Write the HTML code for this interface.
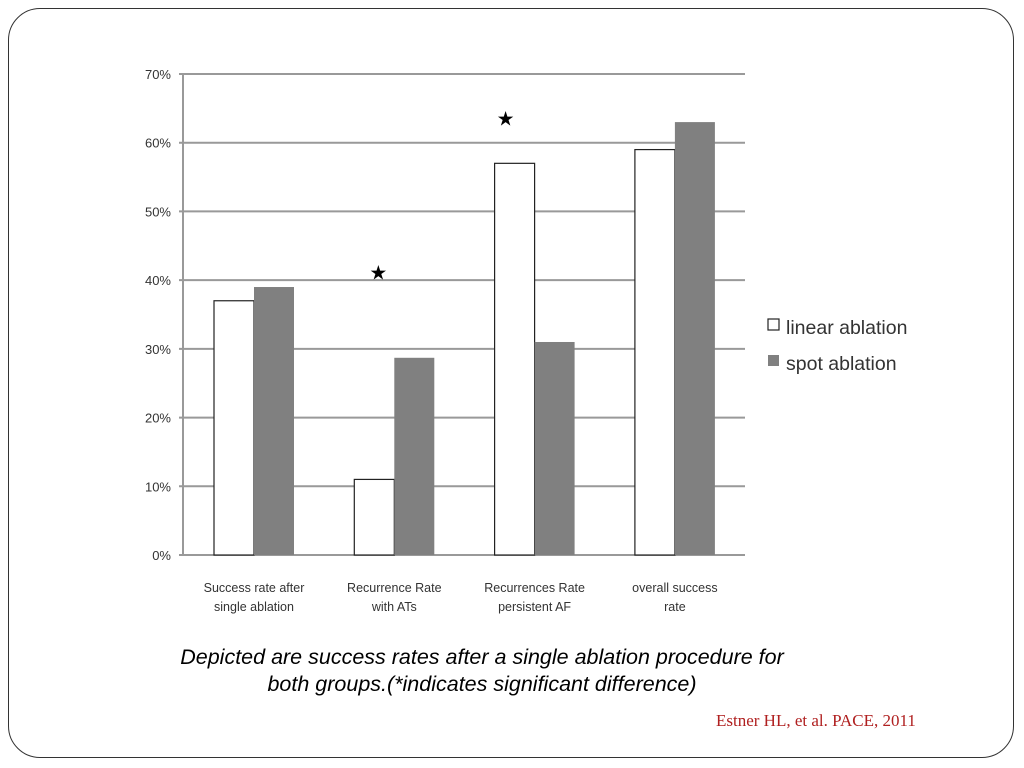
<!DOCTYPE html>
<html><head><meta charset="utf-8"><style>
html,body{margin:0;padding:0;background:#fff;}
body{width:1024px;height:768px;position:relative;overflow:hidden;font-family:"Liberation Sans",sans-serif;}
#frame{position:absolute;left:8px;top:8px;width:1006px;height:750px;border:1.5px solid #333;border-radius:32px;box-sizing:border-box;}
.cap{position:absolute;left:0;width:964px;text-align:center;font-style:italic;font-size:21.5px;color:#000;}
#cite{position:absolute;left:716px;top:711px;font-family:"Liberation Serif",serif;font-size:17px;color:#b02020;}
</style></head><body>
<div id="frame"></div>
<svg id="chart" width="1024" height="768" style="position:absolute;left:0;top:0"></svg>
<div class="cap" style="top:645px">Depicted are success rates after a single ablation procedure for</div>
<div class="cap" style="top:672px">both groups.(*indicates significant difference)</div>
<div id="cite">Estner HL, et al. PACE, 2011</div>
<script>
const categories=[["Success rate after","single ablation"],["Recurrence Rate","with ATs"],["Recurrences Rate","persistent AF"],["overall success","rate"]];
const linearValues=[37,11,57,59];
const spotValues=[39,28.7,31,63];
const tickLabels=["0%","10%","20%","30%","40%","50%","60%","70%"];
const tickValues=[0,10,20,30,40,50,60,70];
const starGroups=[1,2];
const NS="http://www.w3.org/2000/svg";
const svg=document.getElementById('chart');
const x0=183,x1=745,y0=555,y70=74;
const y=v=>y0-(v/70)*(y0-y70);
const groupX=i=>214+i*140.3;
const bw=40;
function mk(t,a){const e=document.createElementNS(NS,t);for(const k in a)e.setAttribute(k,a[k]);svg.appendChild(e);return e;}
tickValues.forEach((v,i)=>{
 const l=mk('line',{x1:x0-4,x2:x1,y1:y(v),y2:y(v),stroke:'#999','stroke-width':2});
 
 
 const t=mk('text',{x:x0-12,y:y(v)+5,'text-anchor':'end','font-size':13,fill:'#333','font-family':'Liberation Sans, sans-serif'});
 t.textContent=tickLabels[i];
 
 
});
const ax=mk('line',{x1:x0,x2:x0,y1:y70,y2:y0,stroke:'#999','stroke-width':2});


categories.forEach((c,i)=>{
 const gx=groupX(i);
 const b1=mk('rect',{x:gx,y:y(linearValues[i]),width:bw,height:y0-y(linearValues[i]),fill:'#fff',stroke:'#222','stroke-width':1.2});
 
 
 const b2=mk('rect',{x:gx+bw,y:y(spotValues[i]),width:bw,height:y0-y(spotValues[i]),fill:'#808080'});
 
 
 c.forEach((ln,j)=>{
  const t=mk('text',{x:gx+bw,y:592+j*19,'text-anchor':'middle','font-size':12.5,fill:'#333','font-family':'Liberation Sans, sans-serif'});
  t.textContent=ln;
  
  
 });
});
starGroups.forEach(i=>{
 const top=Math.max(linearValues[i],spotValues[i]);
 const t=mk('text',{x:groupX(i)+(i==1?24:11),y:0,'text-anchor':'middle','font-size':20,fill:'#000'});
 t.setAttribute('y', i==1? y(41)+6 : y(top)-38);
 t.textContent='★';
 
 
});
const lg=[["linear ablation","#fff"],["spot ablation","#808080"]];
lg.forEach((e,i)=>{
 const r=mk('rect',{x:768,y:319+i*36,width:11,height:11,fill:e[1],stroke:i?'none':'#222','stroke-width':1.2});
 
 
 const t=mk('text',{x:786,y:334+i*36,'font-size':19.5,fill:'#333','font-family':'Liberation Sans, sans-serif'});
 t.textContent=e[0];
 
 
});
</script>
</body></html>
